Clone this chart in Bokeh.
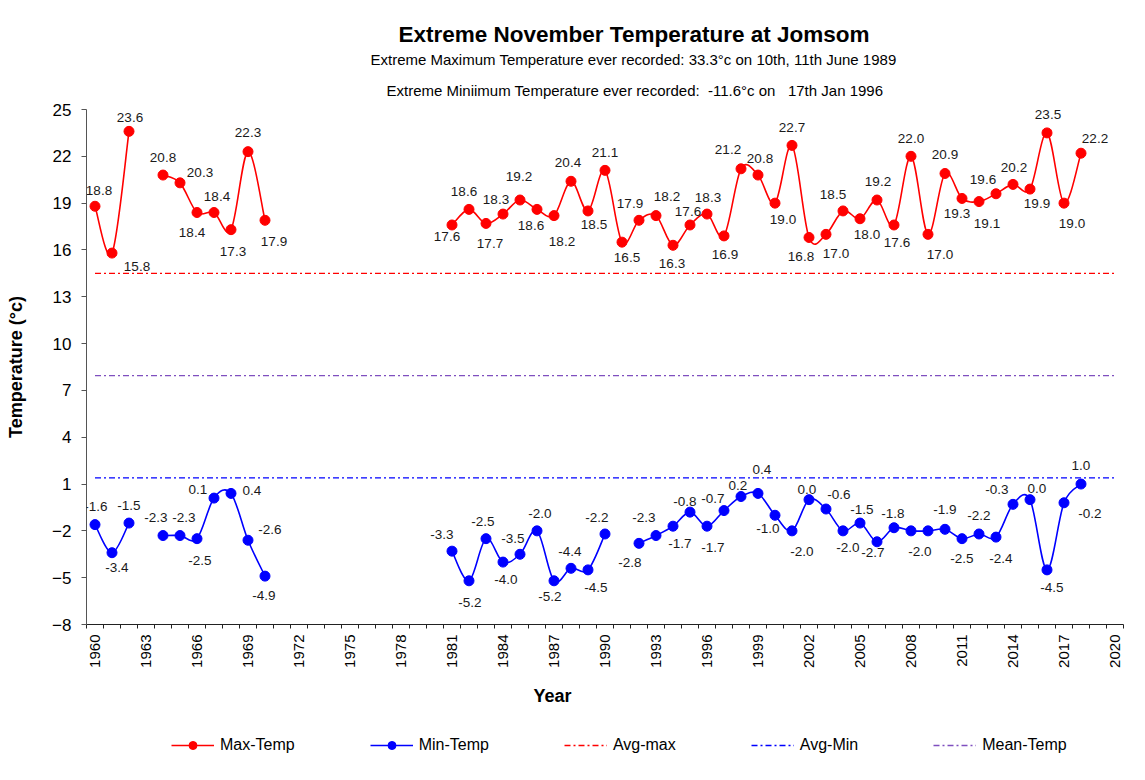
from bokeh.plotting import figure
from bokeh.layouts import column
from bokeh.models import (ColumnDataSource, FixedTicker, LabelSet, Legend,
                          LegendItem, Range1d, Title)
from bokeh.core.properties import value
from bokeh.embed import file_html
from bokeh.resources import INLINE

FONT = "Liberation Sans"
NAN = float("nan")

# ---------------- data ----------------
years = list(range(1960, 2019))
axis_years = list(range(1960, 2021))
tick_years = list(range(1960, 2021, 3))
y_ticks = [-8, -5, -2, 1, 4, 7, 10, 13, 16, 19, 22, 25]

max_temp = [18.8, 15.8, 23.6, None, 20.8, 20.3, 18.4, 18.4, 17.3, 22.3, 17.9,
            None, None, None, None, None, None, None, None, None, None,
            17.6, 18.6, 17.7, 18.3, 19.2, 18.6, 18.2, 20.4, 18.5, 21.1,
            16.5, 17.9, 18.2, 16.3, 17.6, 18.3, 16.9, 21.2, 20.8, 19.0,
            22.7, 16.8, 17.0, 18.5, 18.0, 19.2, 17.6, 22.0, 17.0, 20.9,
            19.3, 19.1, 19.6, 20.2, 19.9, 23.5, 19.0, 22.2]

min_temp = [-1.6, -3.4, -1.5, None, -2.3, -2.3, -2.5, 0.1, 0.4, -2.6, -4.9,
            None, None, None, None, None, None, None, None, None, None,
            -3.3, -5.2, -2.5, -4.0, -3.5, -2.0, -5.2, -4.4, -4.5, -2.2,
            None, -2.8, -2.3, -1.7, -0.8, -1.7, -0.7, 0.2, 0.4, -1.0,
            -2.0, 0.0, -0.6, -2.0, -1.5, -2.7, -1.8, -2.0, -2.0, -1.9,
            -2.5, -2.2, -2.4, -0.3, 0.0, -4.5, -0.2, 1.0]

avg_max = 14.5
avg_min = 1.4
mean_temp = 7.95

title_text = "Extreme November Temperature at Jomsom"
sub1_text = "Extreme Maximum Temperature ever recorded: 33.3\u00b0c on 10th, 11th June 1989"
sub2_text = ("Extreme Miniimum Temperature ever recorded:\u00a0 -11.6\u00b0c on\u00a0\u00a0 "
             "17th Jan 1996")
y_title = "Temperature (\u00b0c)"
x_title = "Year"
series_names = ["Max-Temp", "Min-Temp", "Avg-max", "Avg-Min", "Mean-Temp"]

# ---------------- label placement (style, screen px; dy positive = down) ----------------
max_lbl_off = [(4, -16), (25, 13), (1, -14), None, (0, -18), (20, -10), (-5, 20), (3, -16),
               (2, 22), (0, -19), (9, 21),
               None, None, None, None, None, None, None, None, None, None,
               (-5, 12), (-5, -18), (4, 20), (-7, -15), (-1, -24), (-6, 16), (8, 26), (-3, -19),
               (6, 14), (0, -18),
               (5, 15), (-9, -17), (11, -19), (-1, 18), (-2, -13), (1, -17), (1, 19), (-13, -19),
               (2, -17), (8, 16),
               (0, -18), (-8, 19), (10, 19), (-10, -16), (7, 16), (1, -19), (3, 18), (0, -18),
               (12, 20), (0, -19),
               (-5, 15), (8, 22), (-13, -14), (1, -17), (7, 14), (1, -18), (8, 20), (14, -15)]

min_lbl_off = [(1, -18), (5, 15), (0, -18), None, (-7, -18), (4, -18), (3, 22), (-16, -9),
               (21, -3), (22, -11), (-1, 19),
               None, None, None, None, None, None, None, None, None, None,
               (-10, -17), (1, 22), (-3, -17), (3, 17), (-7, -16), (3, -17), (-4, 16), (-1, -17),
               (8, 18), (-8, -16),
               None, (-9, 19), (-12, -18), (7, 17), (-5, -11), (6, 21), (-11, -12), (-3, -11),
               (4, -24), (-7, 13),
               (10, 21), (-2, -10), (13, -15), (5, 17), (2, -14), (-4, 11), (-1, -14), None,
               (-8, 21), (0, -20),
               (0, 20), (0, -18), (5, 21), (-16, -15), (7, -11), (5, 18), (26, 11), (0, -19)]

RED = "#FF0000"
BLUE = "#0000FF"
PURPLE = "#7F4FBF"
DASH = "6 3 2 3"

W = 1143
H1 = 708
H2 = 70
FL, FR, FT, FB = 86, 1123, 109, 624   # frame edges (page px)

p = figure(width=W, height=H1, output_backend="svg", toolbar_location=None, title=None,
           x_range=Range1d(axis_years[0] - 0.5, axis_years[-1] + 0.5),
           y_range=Range1d(y_ticks[0], y_ticks[-1]),
           min_border_left=FL, min_border_right=W - FR, min_border_top=FT,
           min_border_bottom=H1 - FB)
p.background_fill_color = "white"
p.border_fill_color = "white"
p.outline_line_color = None
p.xgrid.visible = False
p.ygrid.visible = False


def bezier_source(xs, ys):
    runs, cur = [], []
    for x, y in zip(xs, ys):
        if y is None:
            if cur:
                runs.append(cur)
            cur = []
        else:
            cur.append((x, y))
    if cur:
        runs.append(cur)
    d = dict(x0=[], y0=[], x1=[], y1=[], cx0=[], cy0=[], cx1=[], cy1=[])
    for run in runs:
        n = len(run)
        for i in range(n - 1):
            p0 = run[i]
            p1 = run[i + 1]
            pm = run[i - 1] if i > 0 else p0
            p2 = run[i + 2] if i + 2 < n else p1
            d["x0"].append(p0[0]); d["y0"].append(p0[1])
            d["x1"].append(p1[0]); d["y1"].append(p1[1])
            d["cx0"].append(p0[0] + (p1[0] - pm[0]) / 6.0)
            d["cy0"].append(p0[1] + (p1[1] - pm[1]) / 6.0)
            d["cx1"].append(p1[0] - (p2[0] - p0[0]) / 6.0)
            d["cy1"].append(p1[1] - (p2[1] - p0[1]) / 6.0)
    return ColumnDataSource(d)


def series(vals, offs, color):
    xs = [y for y, v in zip(years, vals) if v is not None]
    ys = [v for v in vals if v is not None]
    bsrc = bezier_source(years, vals)
    p.bezier(x0="x0", y0="y0", x1="x1", y1="y1", cx0="cx0", cy0="cy0",
             cx1="cx1", cy1="cy1", source=bsrc, line_color=color, line_width=1.6)
    p.scatter(xs, ys, size=10, color=color, marker="circle")
    lx, ly, lt, ldx, ldy = [], [], [], [], []
    for yr, v, o in zip(years, vals, offs):
        if v is None or o is None:
            continue
        lx.append(yr); ly.append(v); lt.append(f"{v:.1f}")
        ldx.append(o[0]); ldy.append(-o[1])
    lsrc = ColumnDataSource(dict(x=lx, y=ly, t=lt, dx=ldx, dy=ldy))
    ls = LabelSet(x="x", y="y", text="t", x_offset="dx", y_offset="dy", source=lsrc,
                  text_align="center", text_baseline="middle", text_font=value(FONT),
                  text_font_size=value("13.5px"), text_color="#1a1a1a")
    p.add_layout(ls)


series(max_temp, max_lbl_off, RED)
series(min_temp, min_lbl_off, BLUE)

span_x = [axis_years[0], axis_years[-1]]
p.line(span_x, [avg_max, avg_max], line_color=RED, line_width=1.3, line_dash=DASH)
p.line(span_x, [avg_min, avg_min], line_color=BLUE, line_width=1.3, line_dash=DASH)
p.line(span_x, [mean_temp, mean_temp], line_color=PURPLE, line_width=1.3, line_dash=DASH)

# ---------------- axes ----------------
xax = p.xaxis[0]
xax.ticker = FixedTicker(ticks=tick_years, minor_ticks=[y - 0.5 for y in axis_years + [2021]])
xax.major_tick_out = 0
xax.major_tick_in = 0
xax.minor_tick_out = 4
xax.minor_tick_in = 0
xax.major_label_orientation = 1.5707963
xax.major_label_standoff = 6
xax.major_label_text_font = FONT
xax.major_label_text_font_size = "15px"
xax.major_label_text_color = "black"
xax.axis_line_color = "#222222"
xax.minor_tick_line_color = "#222222"
xax.axis_label = x_title + "\u00a0" * 21
xax.axis_label_text_font = FONT
xax.axis_label_text_font_size = "18px"
xax.axis_label_text_font_style = "bold"
xax.axis_label_text_color = "black"
xax.axis_label_standoff = 15

yax = p.yaxis[0]
yax.ticker = FixedTicker(ticks=y_ticks)
yax.major_tick_out = 5
yax.major_tick_in = 0
yax.minor_tick_out = 0
yax.minor_tick_in = 0
yax.major_label_standoff = 10
yax.major_label_text_font = FONT
yax.major_label_text_font_size = "17px"
yax.major_label_text_color = "black"
yax.axis_line_color = "#555555"
yax.major_tick_line_color = "#555555"
yax.axis_label = y_title
yax.axis_label_text_font = FONT
yax.axis_label_text_font_size = "18px"
yax.axis_label_text_font_style = "bold"
yax.axis_label_text_color = "black"
yax.axis_label_standoff = 23

# ---------------- titles (first added = closest to the plot) ----------------
p.add_layout(Title(text=sub2_text, align="left", offset=386 - FL, text_font=FONT,
                   text_font_size="15px", text_font_style="normal", text_color="black",
                   standoff=22), "above")
p.add_layout(Title(text=sub1_text, align="left", offset=370 - FL, text_font=FONT,
                   text_font_size="15px", text_font_style="normal", text_color="black",
                   standoff=1), "above")
p.add_layout(Title(text=title_text, align="left", offset=398 - FL, text_font=FONT,
                   text_font_size="22.5px", text_font_style="bold", text_color="black",
                   standoff=4), "above")

# ---------------- legend strip (second figure, legend proxies only) ----------------
q = figure(width=W, height=H2, output_backend="svg", toolbar_location=None, title=None,
           x_axis_type=None, y_axis_type=None, x_range=Range1d(0, 1), y_range=Range1d(0, 1),
           min_border_left=0, min_border_right=0, min_border_top=0, min_border_bottom=0)
q.outline_line_color = None
q.background_fill_color = "white"
q.border_fill_color = "white"
q.grid.visible = False


def proxy():
    return ColumnDataSource(dict(x=[NAN], y=[NAN]))


r_max_l = q.line(x="x", y="y", source=proxy(), line_color=RED, line_width=1.6)
r_max_s = q.scatter(x="x", y="y", source=proxy(), color=RED, size=8)
r_min_l = q.line(x="x", y="y", source=proxy(), line_color=BLUE, line_width=1.6)
r_min_s = q.scatter(x="x", y="y", source=proxy(), color=BLUE, size=8)
r_am = q.line(x="x", y="y", source=proxy(), line_color=RED, line_width=1.5, line_dash=DASH)
r_an = q.line(x="x", y="y", source=proxy(), line_color=BLUE, line_width=1.5, line_dash=DASH)
r_mt = q.line(x="x", y="y", source=proxy(), line_color=PURPLE, line_width=1.5, line_dash=DASH)

legend = Legend(items=[
    LegendItem(label=series_names[0], renderers=[r_max_l, r_max_s]),
    LegendItem(label=series_names[1], renderers=[r_min_l, r_min_s]),
    LegendItem(label=series_names[2], renderers=[r_am]),
    LegendItem(label=series_names[3], renderers=[r_an]),
    LegendItem(label=series_names[4], renderers=[r_mt]),
], orientation="horizontal", location=(171 - FL, H2 - (745 - H1) - 10), border_line_color=None,
    background_fill_alpha=0, padding=0, margin=0, spacing=75, glyph_width=43,
    glyph_height=20, label_standoff=6, label_text_font=FONT,
    label_text_font_size="16px", label_text_color="black")
q.add_layout(legend, "center")

layout = column(p, q, spacing=0)
open("out.html", "w").write(file_html(layout, INLINE))
